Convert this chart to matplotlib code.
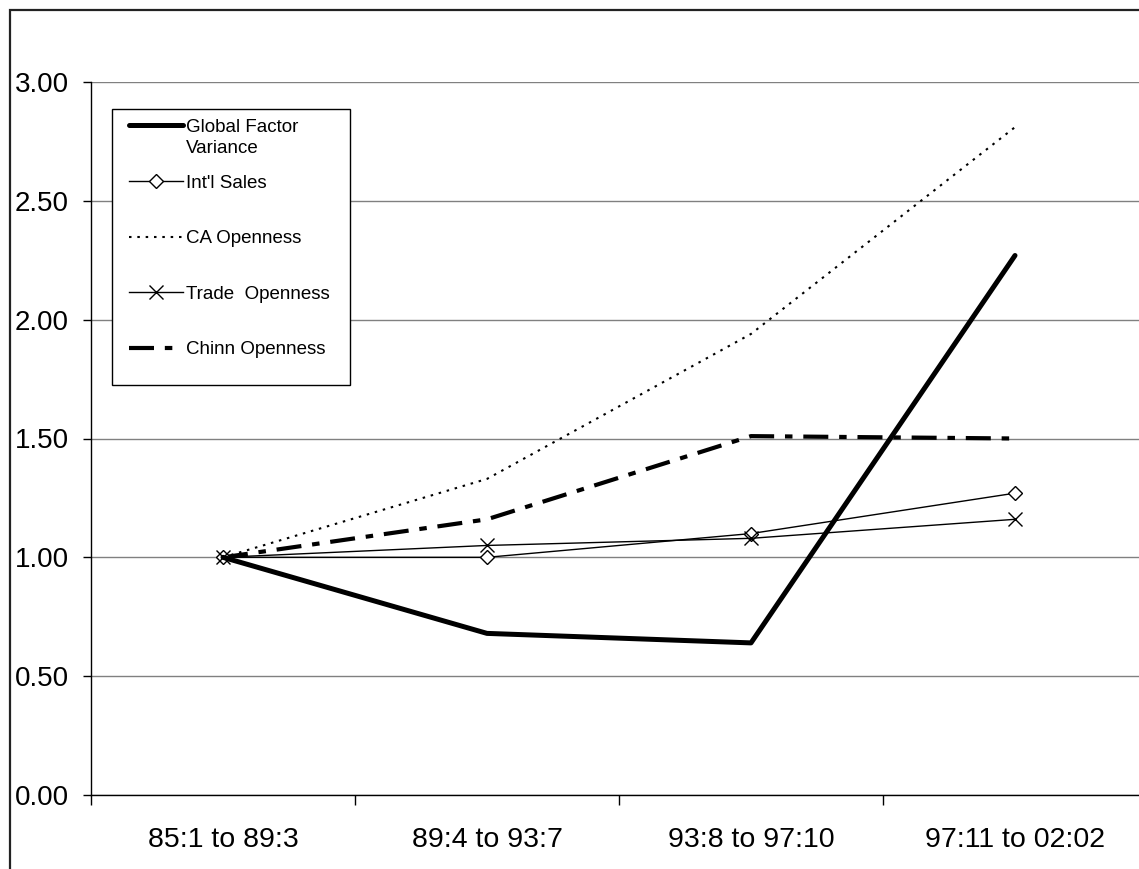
import numpy as np
from matplotlib import pyplot as plt
from matplotlib.patches import Rectangle

# periods on the x axis
periods = ["85:1 to 89:3", "89:4 to 93:7", "93:8 to 97:10", "97:11 to 02:02"]

# series
global_factor = [1.00, 0.68, 0.64, 2.27]
intl_sales = [1.00, 1.00, 1.10, 1.27]
ca_openness = [1.00, 1.33, 1.94, 2.81]
trade_openness = [1.00, 1.05, 1.08, 1.16]
chinn_openness = [1.00, 1.16, 1.51, 1.50]

plt.rcParams['font.family'] = ['Liberation Sans', 'DejaVu Sans']

W, H = 1139, 869
fig = plt.figure(figsize=(W / 100, H / 100), dpi=100)

# outer chart-area border (runs off the right and bottom edge)
fig.patches.append(Rectangle((10 / W, -0.1), 1.2, (H - 10) / H + 0.1,
                             transform=fig.transFigure, fill=False,
                             edgecolor='#222222', linewidth=1.6))

x0, x1 = 91, 1147
y0, y1 = 795, 82
ax = fig.add_axes([x0 / W, (H - y0) / H, (x1 - x0) / W, (y0 - y1) / H])

x = np.arange(len(periods)) + 0.5

ax.plot(x, global_factor, color='black', linewidth=3.6, solid_capstyle='round',
        label="Global Factor", zorder=5)
ax.plot(x, intl_sales, color='black', linewidth=1.0, marker='D', markersize=7,
        markerfacecolor='white', markeredgewidth=1.0, label="Int'l Sales", zorder=4)
ax.plot(x, ca_openness, color='black', linewidth=1.5, linestyle=(0, (1.2, 2.8)),
        label="CA Openness", zorder=3)
ax.plot(x, trade_openness, color='black', linewidth=1.0, marker='x', markersize=10,
        markeredgewidth=1.0, label="Trade  Openness", zorder=4)
ax.plot(x, chinn_openness, color='black', linewidth=3.0, linestyle=(0, (6, 2.6, 1.8, 2.6)),
        dash_capstyle='butt', label="Chinn Openness", zorder=3)

ax.set_xlim(0, len(periods))
ax.set_ylim(0, 3)
ax.set_yticks(np.arange(0, 3.01, 0.5))
ax.set_yticklabels([f"{v:.2f}" for v in np.arange(0, 3.01, 0.5)])
ax.yaxis.grid(True, color='#808080', linewidth=1.0)
ax.set_axisbelow(True)

ax.set_xticks(np.arange(len(periods) + 1))
ax.set_xticklabels([])
ax.set_xticks(x, minor=True)
ax.set_xticklabels(periods, minor=True)
ax.tick_params(axis='x', which='major', direction='out', length=7, width=1)
ax.tick_params(axis='x', which='minor', length=0, pad=23, labelsize=20.5)
ax.tick_params(axis='y', direction='out', length=6, width=1, pad=10, labelsize=20)

for s in ['top', 'right']:
    ax.spines[s].set_visible(False)
for s in ['left', 'bottom']:
    ax.spines[s].set_color('black')
    ax.spines[s].set_linewidth(1.0)

# legend box (drawn separately so its padding can match the original)
ax.add_patch(Rectangle((112 / W, (H - 385) / H), (350 - 112) / W, (385 - 109) / H,
                       transform=fig.transFigure, facecolor='white',
                       edgecolor='black', linewidth=1.0, zorder=10, clip_on=False))

leg = ax.legend(loc='upper left', bbox_to_anchor=(112 / W, (H - 102) / H),
                bbox_transform=fig.transFigure, fontsize=13.5, frameon=False,
                handlelength=2.9, handletextpad=0.15, labelspacing=2.05,
                borderpad=0.9, borderaxespad=0)
leg.set_zorder(11)

# second line of the first legend label, spilling below like in Excel
fig.canvas.draw()
bb = leg.get_texts()[0].get_window_extent()
fig.text(bb.x0 / W, (bb.y1 - 21) / H, "Variance", fontsize=13.5,
         ha='left', va='top', zorder=12)

fig.savefig('out.png', dpi=100)
